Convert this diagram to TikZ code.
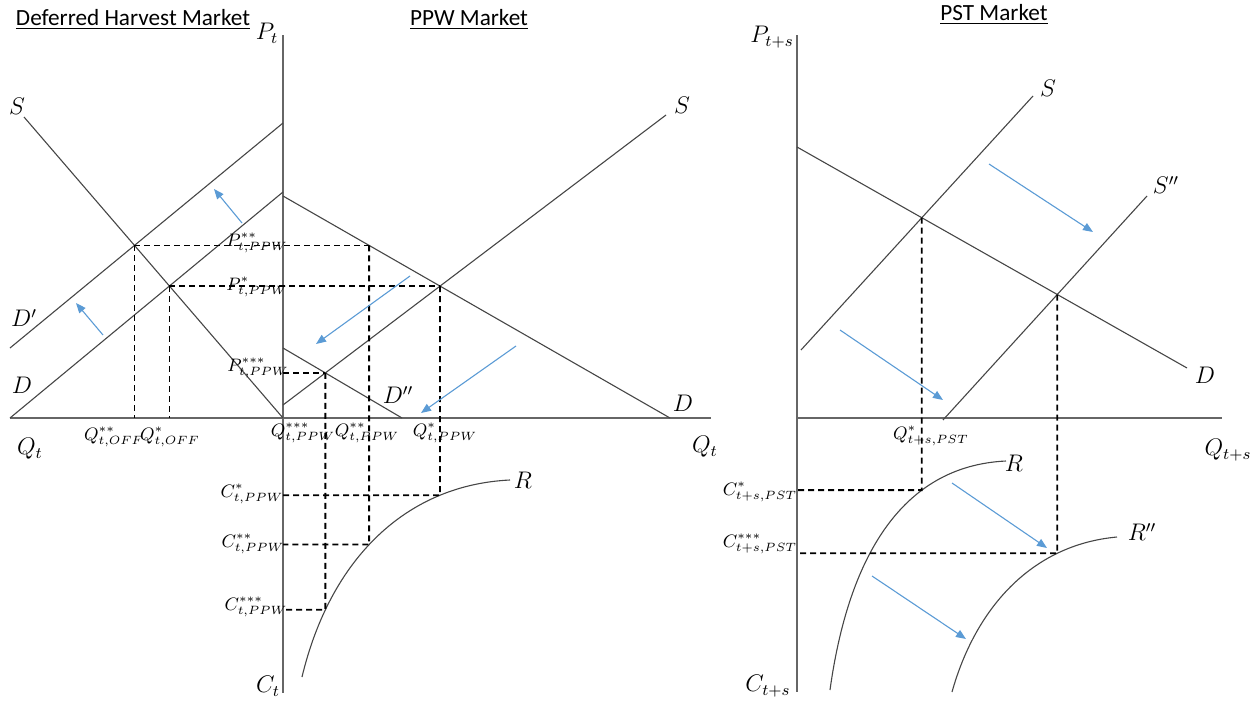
\documentclass[tikz,border=0pt]{standalone}
\usepackage{fontspec}
\newfontfamily\titlefont{Carlito}
\usetikzlibrary{arrows.meta,intersections}
\definecolor{arrowblue}{RGB}{91,155,213}
\definecolor{linegray}{RGB}{70,70,70}
\begin{document}
\begin{tikzpicture}[x=0.5pt,y=-0.5pt,
  econline/.style={draw=linegray,line width=0.55pt},
  axisline/.style={draw=black!60,line width=0.65pt},
  guide/.style={draw=black,line width=0.9pt,dash pattern=on 3pt off 2pt},
  bluearrow/.style={draw=arrowblue,line width=0.55pt,-{Triangle[length=5pt,width=4pt]}},
  lbl/.style={font=\fontsize{11.5}{13}\selectfont,inner sep=0pt},
  sublbl/.style={font=\fontsize{8.6}{10}\selectfont,inner sep=0pt},
  ttl/.style={font=\titlefont\fontsize{11.6}{13}\selectfont,inner sep=0pt,anchor=base}]
\useasboundingbox (0,0) rectangle (1260,702);

% ---------------- titles ----------------
\node[ttl] (t1) at (133,25) {\underline{Deferred Harvest Market}};
\node[ttl] (t2) at (469,25) {\underline{PPW Market}};
\node[ttl] (t3) at (994,20) {\underline{PST Market}};

% ---------------- left / middle axes ----------------
\coordinate (O) at (283,418);
\coordinate (ytop) at (283,35);
\coordinate (ybot) at (283,693);
\coordinate (xl) at (10,418);
\coordinate (xr) at (711,418);
\draw[axisline] (ytop) -- (ybot);
\draw[axisline] (xl) -- (xr);

% ---------------- deferred harvest market ----------------
\coordinate (sl1) at (24,117);  \coordinate (sl2) at (283,418);
\coordinate (dpl1) at (10,348); \coordinate (dpl2) at (283,123);
\coordinate (dl1) at (10,418);  \coordinate (dl2) at (283,192);
\draw[econline,name path=SL] (sl1) -- (sl2);
\draw[econline,name path=DpL] (dpl1) -- (dpl2);
\draw[econline,name path=DL] (dl1) -- (dl2);
\path[name intersections={of=SL and DpL,by=eLpp}];
\path[name intersections={of=SL and DL,by=eLp}];

% ---------------- PPW market ----------------
\coordinate (dm1) at (283,196);  \coordinate (dm2) at (670,418);
\coordinate (sm1) at (283,405);  \coordinate (sm2) at (666,115);
\coordinate (ddm1) at (283,348); \coordinate (ddm2) at (402,418);
\draw[econline,name path=DM] (dm1) -- (dm2);
\draw[econline,name path=SM] (sm1) -- (sm2);
\draw[econline,name path=DDM] (ddm1) -- (ddm2);
\path[name intersections={of=SM and DM,by=eMp}];
\path[name intersections={of=SM and DDM,by=eMppp}];
\path[name path=hpp] (eLpp) -- ++(500,0);
\path[name intersections={of=hpp and DM,by=eMpp}];

% R curve (middle)
\coordinate (rm1) at (302,677); \coordinate (rm2) at (510,480);
\draw[econline,name path=RM] (rm1) .. controls (330,560) and (405,485) .. (rm2);
\path[name path=vp] (eMp) -- ++(0,400);
\path[name path=vpp] (eMpp) -- ++(0,400);
\path[name path=vppp] (eMppp) -- ++(0,400);
\path[name intersections={of=vp and RM,by=rMp}];
\path[name intersections={of=vpp and RM,by=rMpp}];
\path[name intersections={of=vppp and RM,by=rMppp}];

% guide lines left / middle
\draw[guide] (eLpp) -- (eLpp |- O);
\draw[guide] (eLp) -- (eLp |- O);
\draw[guide] (eLpp) -- (eMpp);
\draw[guide] (eLp) -- (eLp -| eMp);
\draw[guide] (O |- eMppp) -- (eMppp);
\draw[guide] (eMpp) -- (rMpp) -- (rMpp -| O);
\draw[guide] (eMp) -- (rMp) -- (rMp -| O);
\draw[guide] (eMppp) -- (rMppp) -- (rMppp -| O);

% blue shift arrows left / middle
\coordinate (a1s) at (242,223); \coordinate (a1e) at (214,189);
\coordinate (a2s) at (103,335); \coordinate (a2e) at (76,303);
\coordinate (a3s) at (410,276); \coordinate (a3e) at (316,344);
\coordinate (a4s) at (516,346); \coordinate (a4e) at (421,413);
\draw[bluearrow] (a1s) -- (a1e);
\draw[bluearrow] (a2s) -- (a2e);
\draw[bluearrow] (a3s) -- (a3e);
\draw[bluearrow] (a4s) -- (a4e);

% labels left / middle
\node[lbl] (lPt) at (267,33) {$P_t$};
\node[lbl] (lCt) at (268,686) {$C_t$};
\node[lbl] (lSL) at (17,106) {$S$};
\node[lbl] (lDpL) at (24,318) {$D'$};
\node[lbl] (lDL) at (22,385) {$D$};
\node[lbl] (lQtL) at (30,449) {$Q_t$};
\node[sublbl] (lQoffpp) at (114,437) {$Q^{**}_{t,OFF}$};
\node[sublbl] (lQoffp) at (170,437) {$Q^{*}_{t,OFF}$};
\node[sublbl] (lPpp) at (257,243) {$P^{**}_{t,PPW}$};
\node[sublbl] (lPp) at (257,287) {$P^{*}_{t,PPW}$};
\node[sublbl] (lPppp) at (258,368) {$P^{***}_{t,PPW}$};
\node[sublbl] (lQppp) at (303,433) {$Q^{***}_{t,PPW}$};
\node[sublbl] (lQpp) at (367,433) {$Q^{**}_{t,PPW}$};
\node[sublbl] (lQp) at (445,433) {$Q^{*}_{t,PPW}$};
\node[lbl] (lDDM) at (398,395) {$D''$};
\node[lbl] (lSM) at (682,105) {$S$};
\node[lbl] (lDM) at (683,403) {$D$};
\node[lbl] (lQtM) at (705,447) {$Q_t$};
\node[sublbl] (lCp) at (252,494) {$C^{*}_{t,PPW}$};
\node[sublbl] (lCpp) at (253,544) {$C^{**}_{t,PPW}$};
\node[sublbl] (lCppp) at (256,607) {$C^{***}_{t,PPW}$};
\node[lbl] (lRM) at (523,480) {$R$};

% ---------------- PST market ----------------
\coordinate (O2) at (797,418);
\coordinate (ytop2) at (797,35);
\coordinate (ybot2) at (797,692);
\coordinate (xr2) at (1222,418);
\draw[axisline] (ytop2) -- (ybot2);
\draw[axisline] (O2) -- (xr2);

\coordinate (dr1) at (797,147);  \coordinate (dr2) at (1187,368);
\coordinate (sr1) at (801,350);  \coordinate (sr2) at (1033,96);
\coordinate (ssr1) at (943,420); \coordinate (ssr2) at (1147,196);
\draw[econline,name path=DR] (dr1) -- (dr2);
\draw[econline,name path=SR] (sr1) -- (sr2);
\draw[econline,name path=SSR] (ssr1) -- (ssr2);
\path[name intersections={of=DR and SR,by=eR1}];
\path[name intersections={of=DR and SSR,by=eR2}];

\coordinate (rr1) at (830,690);  \coordinate (rr2) at (1006,461);
\coordinate (rrr1) at (952,692); \coordinate (rrr2) at (1117,537);
\draw[econline,name path=RR] (rr1) .. controls (848,560) and (900,466) .. (rr2);
\draw[econline,name path=RRR] (rrr1) .. controls (975,610) and (1030,545) .. (rrr2);
\path[name path=vr1] (eR1) -- ++(0,400);
\path[name path=vr2] (eR2) -- ++(0,400);
\path[name intersections={of=vr1 and RR,by=rR1}];
\path[name intersections={of=vr2 and RRR,by=rR2}];
\draw[guide] (eR1) -- (rR1) -- (rR1 -| O2);
\draw[guide] (eR2) -- (rR2) -- (rR2 -| O2);

\coordinate (a5s) at (989,164); \coordinate (a5e) at (1093,232);
\coordinate (a6s) at (840,330); \coordinate (a6e) at (943,400);
\coordinate (a7s) at (952,483); \coordinate (a7e) at (1047,548);
\coordinate (a8s) at (872,576); \coordinate (a8e) at (966,639);
\draw[bluearrow] (a5s) -- (a5e);
\draw[bluearrow] (a6s) -- (a6e);
\draw[bluearrow] (a7s) -- (a7e);
\draw[bluearrow] (a8s) -- (a8e);

\node[lbl] (lPts) at (772,37) {$P_{t+s}$};
\node[lbl] (lCts) at (768,686) {$C_{t+s}$};
\node[lbl] (lSR) at (1048,88) {$S$};
\node[lbl] (lSSR) at (1166,185) {$S''$};
\node[lbl] (lDR) at (1205,375) {$D$};
\node[lbl] (lQts) at (1228,450) {$Q_{t+s}$};
\node[sublbl] (lQpst) at (931,436) {$Q^{*}_{t+s,PST}$};
\node[sublbl] (lCpst) at (760,492) {$C^{*}_{t+s,PST}$};
\node[sublbl] (lCppppst) at (760,544) {$C^{***}_{t+s,PST}$};
\node[lbl] (lRR) at (1014,463) {$R$};
\node[lbl] (lRRR) at (1142,532) {$R''$};
\end{tikzpicture}
\end{document}
